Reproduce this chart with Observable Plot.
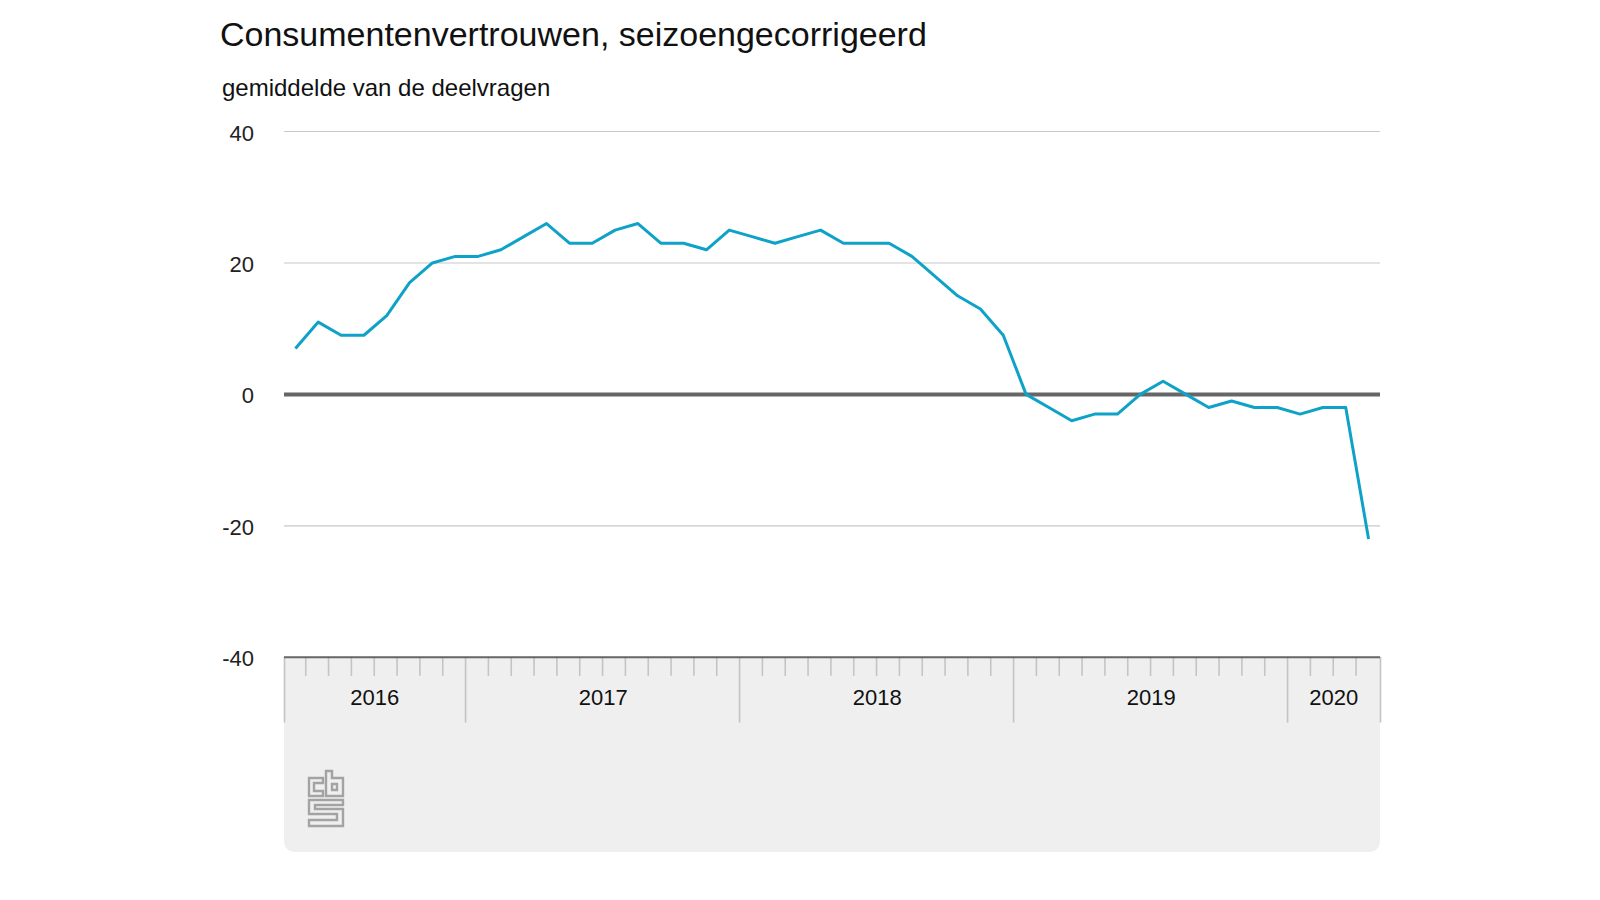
<!DOCTYPE html>
<html><head><meta charset="utf-8">
<script src="https://cdn.jsdelivr.net/npm/d3@7"></script>
<script src="https://cdn.jsdelivr.net/npm/@observablehq/plot@0.6"></script>
<style>
html,body{margin:0;padding:0;background:#fff;font-family:"Liberation Sans",Arial,sans-serif;color:#111}
#wrap{position:relative;width:1600px;height:900px;overflow:hidden}
h1{position:absolute;left:220px;top:12.5px;margin:0;font-weight:400;font-size:34px;line-height:42px;white-space:nowrap}
h2{position:absolute;left:222px;top:74px;margin:0;font-weight:400;font-size:24px;line-height:28px;white-space:nowrap}
#chart{position:absolute;left:0;top:110px}
#logo{position:absolute;left:307px;top:769px}
</style></head><body>
<div id="wrap">
<h1>Consumentenvertrouwen, seizoengecorrigeerd</h1>
<h2>gemiddelde van de deelvragen</h2>
<div id="chart"></div>
<svg id="logo" width="38" height="60" viewBox="0 0 38 60" fill="none" stroke="#a3a3a3" stroke-width="2.4">
<path d="M16 9H2V27H16V22H7V14H16Z"/>
<path d="M19 2H25V9H36V27H19ZM25 15V21H30V15Z"/>
<path d="M36 31H2V45H30V51H2V57H36V40H8V36H36Z"/>
</svg>
</div>
<script>
const years = ["2016","2017","2018","2019","2020"];
const yearStarts = [0,8,20,32,44,48];
const yTicks = [40,20,0,-20,-40];
const monthStarts = ["2016-05","2016-06","2016-07","2016-08","2016-09","2016-10","2016-11","2016-12",
"2017-01","2017-02","2017-03","2017-04","2017-05","2017-06","2017-07","2017-08","2017-09","2017-10","2017-11","2017-12",
"2018-01","2018-02","2018-03","2018-04","2018-05","2018-06","2018-07","2018-08","2018-09","2018-10","2018-11","2018-12",
"2019-01","2019-02","2019-03","2019-04","2019-05","2019-06","2019-07","2019-08","2019-09","2019-10","2019-11","2019-12",
"2020-01","2020-02","2020-03","2020-04"];
const confidence = [7,11,9,9,12,17,20,21,
21,22,24,26,23,23,25,26,23,23,22,25,
24,23,24,25,23,23,23,21,18,15,13,9,
0,-2,-4,-3,-3,0,2,0,-2,-1,-2,-2,
-3,-2,-2,-22];
const data = confidence.map((v,i)=>({i:i+0.5,month:monthStarts[i],v}));
const monthTicks = d3.range(1,48).filter(i=>!yearStarts.includes(i));
const innerYears = yearStarts.slice(1,-1);
const edgeYears = [yearStarts[0],yearStarts[yearStarts.length-1]];
const yearLabels = years.map((y,k)=>({y,x:(yearStarts[k]+yearStarts[k+1])/2}));
const yBase=-40, yTick=-42.9, yYear=-50.0, yLabel=-46.2, yPanel=-69.7;

const plot = Plot.plot({
  width:1600,height:790,
  marginLeft:284,marginRight:220,marginTop:21,marginBottom:48,
  x:{type:"linear",domain:[0,48],axis:null},
  y:{type:"linear",domain:[yPanel,40],axis:null},
  marks:[
    Plot.rect([{}],{x1:0,x2:48,y1:yPanel,y2:yPanel+15,fill:"#efefef",rx:10}),
    Plot.rect([{}],{x1:0,x2:48,y1:yPanel+6,y2:yBase,fill:"#efefef"}),
    Plot.ruleY(yTicks.filter(d=>d!==0&&d!==-40),{x1:0,x2:48,stroke:"#c8c8c8",strokeWidth:1.1,strokeOpacity:1}),
    Plot.ruleX(monthTicks,{y1:yBase,y2:yTick,stroke:"#c4c4c4",strokeWidth:1.6,dx:-1.6}),
    Plot.ruleX(innerYears,{y1:yBase,y2:yYear,stroke:"#c4c4c4",strokeWidth:1.6,dx:-1.6}),
    Plot.ruleX(edgeYears,{y1:yBase,y2:yYear,stroke:"#c4c4c4",strokeWidth:1.6}),
    Plot.ruleY([0],{x1:0,x2:48,stroke:"#666666",strokeWidth:4}),
    Plot.ruleY([-40],{x1:0,x2:48,stroke:"#666666",strokeWidth:2}),
    Plot.line(data,{x:"i",y:"v",stroke:"#0fa2c8",strokeWidth:3,strokeLinejoin:"round",strokeLinecap:"butt",dx:-0.5}),
    Plot.text(yTicks,{x:0,y:d=>d,text:d=>String(d),textAnchor:"end",dx:-30.5,dy:2,fontSize:22,fill:"#222",fontFamily:"Liberation Sans"}),
    Plot.text(yearLabels,{x:"x",y:yLabel,text:"y",textAnchor:"middle",dx:-1,fontSize:22,fill:"#111",fontFamily:"Liberation Sans"})
  ]
});
document.getElementById("chart").appendChild(plot);
</script>
</body></html>
